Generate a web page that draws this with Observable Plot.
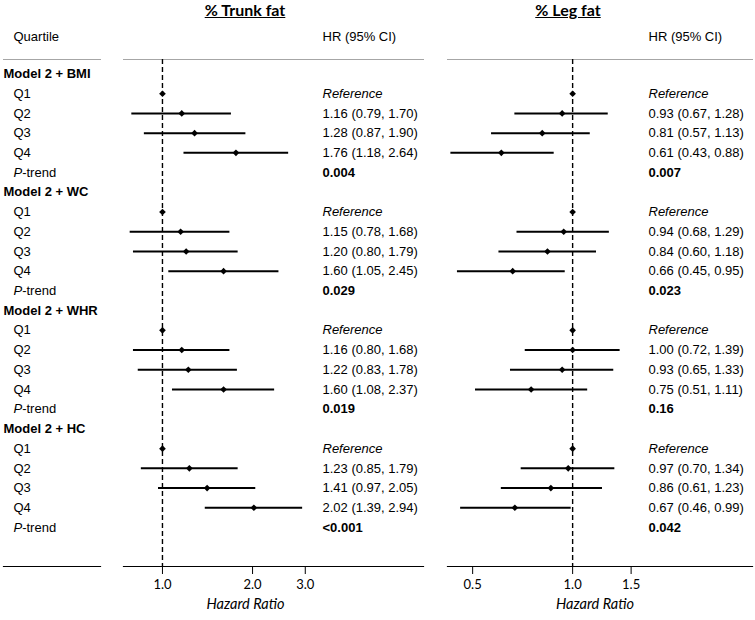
<!DOCTYPE html>
<html><head><meta charset="utf-8">
<script src="https://cdn.jsdelivr.net/npm/d3@7"></script>
<script src="https://cdn.jsdelivr.net/npm/@observablehq/plot@0.6"></script>
<style>
body{margin:0;background:#fff;}
#chart{position:relative;width:755px;height:620px;overflow:hidden;}
#chart svg{position:absolute;left:0;top:0;}
.title{position:absolute;top:1px;font:bold 16px/17px Lato, sans-serif;text-decoration:underline;transform:translateX(-50%);white-space:nowrap;color:#000;}
</style></head>
<body><div id="chart"></div>
<script>
const models = ["Model 2 + BMI", "Model 2 + WC", "Model 2 + WHR", "Model 2 + HC"];
const quartiles = ["Q1", "Q2", "Q3", "Q4"];
const pLabel = "P-trend";

// % Trunk fat (Q2, Q3, Q4 per model)
const trunkHR = [[1.16, 1.28, 1.76], [1.15, 1.20, 1.60], [1.16, 1.22, 1.60], [1.23, 1.41, 2.02]];
const trunkLo = [[0.79, 0.87, 1.18], [0.78, 0.80, 1.05], [0.80, 0.83, 1.08], [0.85, 0.97, 1.39]];
const trunkHi = [[1.70, 1.90, 2.64], [1.68, 1.79, 2.45], [1.68, 1.78, 2.37], [1.79, 2.05, 2.94]];
const trunkP = ["0.004", "0.029", "0.019", "<0.001"];

// % Leg fat
const legHR = [[0.93, 0.81, 0.61], [0.94, 0.84, 0.66], [1.00, 0.93, 0.75], [0.97, 0.86, 0.67]];
const legLo = [[0.67, 0.57, 0.43], [0.68, 0.60, 0.45], [0.72, 0.65, 0.51], [0.70, 0.61, 0.46]];
const legHi = [[1.28, 1.13, 0.88], [1.29, 1.18, 0.95], [1.39, 1.33, 1.11], [1.34, 1.23, 0.99]];
const legP = ["0.007", "0.023", "0.16", "0.042"];

const leftTicks = [1, 2, 3];
const leftTickLabels = ["1.0", "2.0", "3.0"];
const rightTicks = [0.5, 1, 1.5];
const rightTickLabels = ["0.5", "1.0", "1.5"];

const nRows = models.length * 6;
const bodyFont = "'Liberation Sans', Arial, sans-serif";
const axisFont = "Lato, sans-serif";

function buildRows(hr, lo, hi, p) {
  const rows = [];
  models.forEach((m, mi) => {
    const base = mi * 6;
    rows.push({row: base + 1, kind: "ref", hr: 1, text: "Reference"});
    for (let k = 0; k < 3; k++) {
      rows.push({row: base + 2 + k, kind: "est", hr: hr[mi][k], lo: lo[mi][k], hi: hi[mi][k],
        text: `${hr[mi][k].toFixed(2)} (${lo[mi][k].toFixed(2)}, ${hi[mi][k].toFixed(2)})`});
    }
    rows.push({row: base + 5, kind: "p", text: p[mi]});
  });
  return rows;
}

const labelRows = [];
models.forEach((m, mi) => {
  labelRows.push({row: mi * 6, text: m, kind: "model"});
  quartiles.forEach((q, qi) => labelRows.push({row: mi * 6 + 1 + qi, text: q, kind: "q"}));
  labelRows.push({row: mi * 6 + 5, text: pLabel, kind: "q"});
});

const common = {
  width: 755, height: 620, marginTop: 59, marginBottom: 54,
  style: {background: "transparent", fontFamily: bodyFont, fontSize: "13px", color: "black"},
  y: {type: "linear", domain: [0, nRows - 1], range: [73.5, 527], axis: null}
};

// label column
const labelsPlot = Plot.plot({
  ...common, marginLeft: 3, marginRight: 655,
  marks: [
    Plot.frame({anchor: "top", stroke: "#a6a6a6"}),
    Plot.frame({anchor: "bottom", stroke: "black", strokeWidth: 1.2}),
    Plot.text(["Quartile"], {text: d => d, frameAnchor: "top-left", lineAnchor: "middle", dx: 10, dy: -23}),
    Plot.text(labelRows.filter(d => d.kind === "model"), {y: "row", text: "text", frameAnchor: "left", dx: 0, fontWeight: "bold"}),
    Plot.text(labelRows.filter(d => d.kind === "q"), {y: "row", text: "text", frameAnchor: "left", dx: 10})
  ]
});

function forest(rows, opts) {
  return Plot.plot({
    ...common, marginLeft: opts.left, marginRight: 755 - opts.right,
    x: {type: "log", domain: opts.domain, range: [opts.left, opts.right], axis: null},
    marks: [
      Plot.frame({anchor: "top", stroke: "#a6a6a6"}),
      Plot.frame({anchor: "bottom", stroke: "black", strokeWidth: 1.2}),
      Plot.ruleX([1], {stroke: "black", strokeWidth: 1.4, strokeDasharray: "5,3"}),
      Plot.axisX({ticks: opts.ticks, tickFormat: d => opts.tickLabels[opts.ticks.indexOf(d)], tickSize: 8, tickPadding: 5,
        fontFamily: axisFont, fontSize: 13, label: null}),
      Plot.ruleY(rows.filter(d => d.kind === "est"), {y: "row", x1: "lo", x2: "hi", stroke: "black", strokeWidth: 2}),
      Plot.dot(rows.filter(d => d.kind !== "p"), {x: "hr", y: "row", symbol: "diamond2", r: 3, fill: "black", stroke: "none"}),
      Plot.text(["HR (95% CI)"], {text: d => d, frameAnchor: "top-left", lineAnchor: "middle", dx: opts.textDx, dy: -23}),
      Plot.text(rows.filter(d => d.kind === "est"), {y: "row", text: "text", frameAnchor: "left", dx: opts.textDx}),
      Plot.text(rows.filter(d => d.kind === "ref"), {y: "row", text: "text", frameAnchor: "left", dx: opts.textDx, fontStyle: "italic"}),
      Plot.text(rows.filter(d => d.kind === "p"), {y: "row", text: "text", frameAnchor: "left", dx: opts.textDx, fontWeight: "bold"}),
      Plot.text(["Hazard Ratio"], {text: d => d, frameAnchor: "bottom", lineAnchor: "middle", dx: opts.labelDx, dy: 38,
        fontStyle: "italic", fontFamily: axisFont, fontSize: 14.5})
    ]
  });
}

const leftPlot = forest(buildRows(trunkHR, trunkLo, trunkHi, trunkP), {
  left: 123, right: 423, domain: [0.741, 7.45], ticks: leftTicks, tickLabels: leftTickLabels, textDx: 199, labelDx: -28
});
const rightPlot = forest(buildRows(legHR, legLo, legHi, legP), {
  left: 447, right: 752, domain: [0.42, 3.48], ticks: rightTicks, tickLabels: rightTickLabels, textDx: 201, labelDx: -5
});

const chart = document.getElementById("chart");
chart.append(labelsPlot, leftPlot, rightPlot);

// italic P in "P-trend"
d3.select(labelsPlot).selectAll("text").filter(function() { return this.textContent === pLabel; }).each(function() {
  const t = d3.select(this);
  t.text("");
  t.append("tspan").attr("font-style", "italic").text("P");
  t.append("tspan").text("-trend");
});

const titles = [["% Trunk fat", 245], ["% Leg fat", 568]];
for (const [t, x] of titles) {
  const div = document.createElement("div");
  div.className = "title";
  div.style.left = x + "px";
  div.textContent = t;
  chart.append(div);
}
</script>
</body></html>
